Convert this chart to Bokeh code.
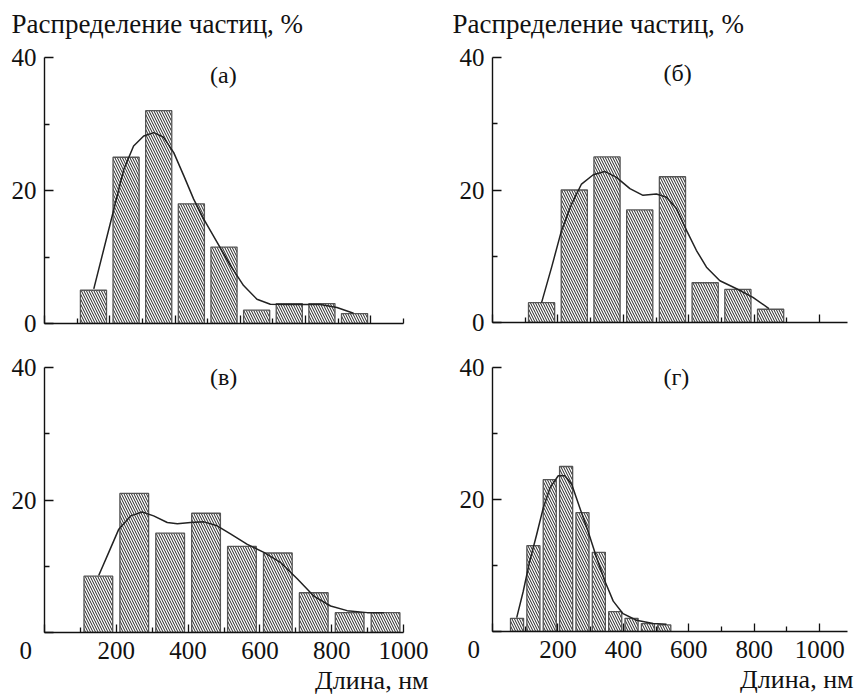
from bokeh.plotting import figure
from bokeh.layouts import column, row
from bokeh.models import Range1d, FixedTicker, Label, Title
from bokeh.core.properties import value
from bokeh.embed import file_html
from bokeh.resources import INLINE

FONT = "Liberation Serif"

# ---------------- data ----------------
y_title = "Распределение частиц, %"
x_title = "Длина, нм"
panel_tags = ["(а)", "(б)", "(в)", "(г)"]

y_ticks = [0, 20, 40]
y_minor = [10, 30]
x_ticks = [0, 200, 400, 600, 800, 1000]
x_minor = [100, 300, 500, 700, 900, 1100]

a_centers = [150, 250, 350, 450, 550, 650, 750, 850, 950]
a_values = [5, 25, 32, 18, 11.5, 2, 3, 3, 1.5]
a_curve_x = [151, 210, 243, 273, 304, 335, 365, 396, 427, 457, 488, 529, 570, 610, 651, 692, 743, 845, 896, 947]
a_curve_y = [5.2, 16.7, 23.2, 26.7, 28.2, 28.7, 28.0, 25.7, 22.2, 18.7, 15.7, 12.2, 8.7, 5.7, 3.65, 2.9, 2.85, 2.85, 2.4, 1.55]

b_centers = [150, 250, 350, 450, 550, 650, 750, 850]
b_values = [3, 20, 25, 17, 22, 6, 5, 2]
b_curve_x = [150, 181, 211, 242, 272, 308, 343, 379, 420, 460, 501, 532, 562, 593, 623, 654, 695, 746, 796, 845]
b_curve_y = [3.0, 8.4, 13.9, 17.9, 20.9, 22.3, 22.8, 21.9, 20.2, 19.2, 19.4, 18.9, 17.2, 13.9, 10.9, 8.35, 6.3, 5.1, 3.8, 2.1]

c_centers = [150, 250, 350, 450, 550, 650, 750, 850, 950]
c_values = [8.5, 21, 15, 18, 13, 12, 6, 3, 3]
c_curve_x = [151, 179, 207, 240, 272, 304, 342, 370, 407, 444, 481, 518, 565, 611, 657, 704, 750, 797, 843, 899, 945]
c_curve_y = [8.6, 12.1, 15.6, 17.6, 18.2, 17.6, 16.6, 16.4, 16.6, 16.7, 16.1, 14.9, 13.3, 12.1, 10.6, 8.1, 5.5, 4.0, 3.3, 3.0, 3.0]

d_centers = [75, 125, 175, 225, 275, 325, 375, 425, 475, 525]
d_values = [2, 13, 23, 25, 18, 12, 3, 2, 1.2, 1]
d_curve_x = [74, 94, 114, 135, 155, 176, 201, 221, 242, 267, 292, 318, 343, 369, 399, 440, 491, 532]
d_curve_y = [2.1, 6.1, 10.7, 14.7, 18.7, 21.8, 23.6, 23.6, 22.3, 18.7, 15.2, 11.2, 7.7, 4.6, 2.7, 1.7, 1.2, 1.1]

INK = "#111111"
STRIP_H = 42


def make_panel(fl, fr, ft, fb, fw, fh, xmax, centers, values, bar_w, cx, cy,
               tag, tag_x, tag_y, bottom_row):
    p = figure(frame_width=fw, frame_height=fh,
               min_border_left=fl, min_border_right=fr,
               min_border_top=ft, min_border_bottom=fb,
               x_range=Range1d(0, xmax), y_range=Range1d(0, 40),
               output_backend="svg", toolbar_location=None)
    p.outline_line_color = None
    p.xgrid.visible = False
    p.ygrid.visible = False
    p.background_fill_color = "white"
    p.border_fill_color = "white"

    p.vbar(x=centers, top=values, width=bar_w, bottom=0,
           fill_color="white", line_color="#555555", line_width=1.3,
           hatch_pattern="\\", hatch_color="#222222", hatch_weight=1.0,
           hatch_scale=5)
    p.line(cx, cy, line_color="#222222", line_width=1.5)

    for ax in (p.xaxis[0], p.yaxis[0]):
        ax.axis_line_color = INK
        ax.axis_line_width = 1.4
        ax.major_tick_line_color = INK
        ax.minor_tick_line_color = INK
        ax.major_tick_line_width = 1.3
        ax.minor_tick_line_width = 1.3
        ax.major_tick_out = 0
        ax.minor_tick_out = 0
        ax.major_label_text_font = FONT
        ax.major_label_text_font_size = "25px"
        ax.major_label_text_color = INK

    p.yaxis[0].ticker = FixedTicker(ticks=y_ticks, minor_ticks=y_minor)
    p.yaxis[0].major_tick_in = 9
    p.yaxis[0].minor_tick_in = 5
    p.yaxis[0].major_label_standoff = 8

    p.xaxis[0].ticker = FixedTicker(ticks=x_ticks, minor_ticks=x_minor)
    p.xaxis[0].major_tick_in = 8
    p.xaxis[0].minor_tick_in = 5
    p.xaxis[0].major_label_standoff = 4
    if not bottom_row:
        p.xaxis[0].major_label_overrides = {t: "" for t in x_ticks}
        p.xaxis[0].major_label_text_font_size = "1px"
    else:
        p.yaxis[0].major_label_overrides = {0: ""}
        p.xaxis[0].major_label_overrides = {0: "0\u2002\u2002\u2002"}

    p.add_layout(Label(x=tag_x, y=tag_y, text=tag, text_font=FONT,
                       text_font_size="24px", text_color=INK,
                       text_align="center", text_baseline="middle"))
    return p


def title_strip(width, x_px):
    t = figure(width=width, height=STRIP_H, min_border=0,
               min_border_left=0, min_border_right=0,
               min_border_top=0, min_border_bottom=0,
               x_range=Range1d(0, width), y_range=Range1d(0, STRIP_H),
               x_axis_type=None, y_axis_type=None,
               output_backend="svg", toolbar_location=None)
    t.outline_line_color = None
    t.background_fill_color = "white"
    t.border_fill_color = "white"
    t.text(x=[x_px], y=[STRIP_H - 23], text=[y_title], text_font=value(FONT),
           text_font_size="27px", text_color=INK, text_align="left",
           text_baseline="middle")
    return t


ta = title_strip(448, 11)
tb = title_strip(408, 4)

pa = make_panel(44, 45, 55 - STRIP_H, 24, 359, 266, 1100, a_centers, a_values, 80,
                a_curve_x, a_curve_y, panel_tags[0], 548, 37.3, False)
pb = make_panel(44, 9, 57 - STRIP_H, 23, 355, 265, 1085, b_centers, b_values, 80,
                b_curve_x, b_curve_y, panel_tags[1], 566, 37.6, False)
pc = make_panel(44, 45, 20, 65, 359, 265, 1000, c_centers, c_values, 80,
                c_curve_x, c_curve_y, panel_tags[2], 499, 38.5, True)
pd = make_panel(44, 9, 22, 64, 355, 264, 1085, d_centers, d_values, 40,
                d_curve_x, d_curve_y, panel_tags[3], 562, 38.6, True)

# x titles below the bottom panels
for p, off in ((pc, -25), (pd, -6)):
    p.add_layout(Title(text=x_title, align="right", offset=off, standoff=-6,
                       text_font=FONT, text_font_size="26px",
                       text_font_style="normal", text_color=INK), "below")

layout = column(row(ta, tb), row(pa, pb), row(pc, pd))

open("out.html", "w").write(file_html(layout, INLINE))
